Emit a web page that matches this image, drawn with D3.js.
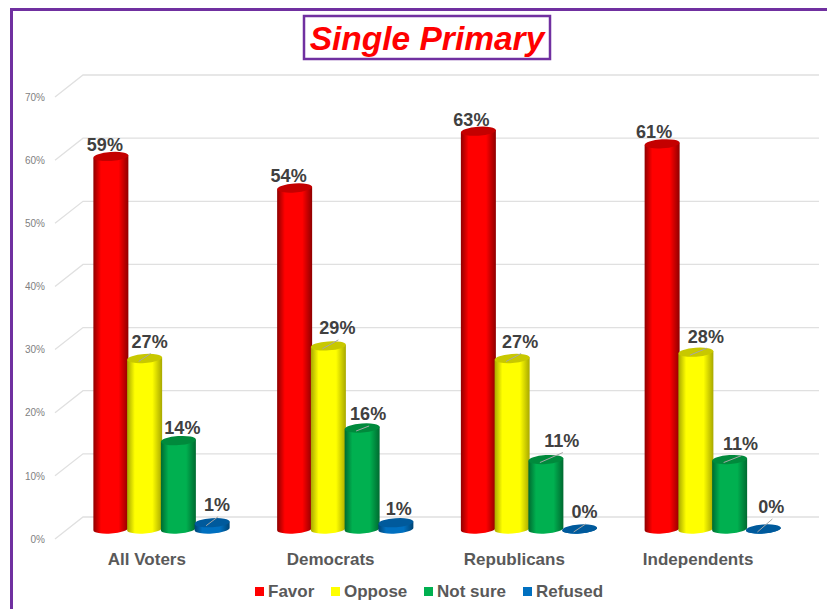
<!DOCTYPE html>
<html>
<head>
<meta charset="utf-8">
<script src="https://cdn.jsdelivr.net/npm/d3@7"></script>
<style>
html, body { margin: 0; padding: 0; background: #fff; }
svg { display: block; }
text { font-family: "Liberation Sans", Arial, sans-serif; }
</style>
</head>
<body>
<div id="chart"></div>
<script>
var categories = ["All Voters", "Democrats", "Republicans", "Independents"];
var seriesNames = ["Favor", "Oppose", "Not sure", "Refused"];
var favor = [59, 54, 63, 61];
var oppose = [27, 29, 27, 28];
var notSure = [14, 16, 11, 11];
var refused = [1, 1, 0, 0];
var ticks = [0, 10, 20, 30, 40, 50, 60, 70];

var seriesValues = [favor, oppose, notSure, refused];

// hand placed data labels in the original, offset from the top of each bar
var labelDx = [[-6, -6, -7, -8], [5, 9, 8, 10], [4, 6, 16, 11], [5, 3, 5, 8]];
var labelDy = [[-12, -12, -12, -12], [-17, -18, -17, -16], [-13, -14, -19, -16], [-18, -14, -17, -22]];
// which labels have a leader line back to the bar
var leaders = [[0, 0, 0, 0], [1, 1, 1, 1], [0, 1, 1, 1], [1, 0, 1, 1]];

var colors = [
  { main: "#ff0000", edge: "#8f0000", top: "#c40000" },
  { main: "#ffff00", edge: "#a8a800", top: "#c8c800" },
  { main: "#00b050", edge: "#006a30", top: "#008a3c" },
  { main: "#0070c0", edge: "#004474", top: "#005a9c" }
];

var svg = d3.select("#chart").append("svg")
  .attr("width", 827)
  .attr("height", 609);

// page frame
svg.append("rect").attr("x", 10).attr("y", 8).attr("width", 817).attr("height", 3).style("fill", "#7030a0");
svg.append("rect").attr("x", 10).attr("y", 8).attr("width", 3).attr("height", 601).style("fill", "#7030a0");

var defs = svg.append("defs");
colors.forEach(function(c, i) {
  var g = defs.append("linearGradient").attr("id", "cyl" + i);
  g.append("stop").attr("offset", "0%").style("stop-color", c.edge);
  g.append("stop").attr("offset", "22%").style("stop-color", c.main);
  g.append("stop").attr("offset", "72%").style("stop-color", c.main);
  g.append("stop").attr("offset", "100%").style("stop-color", c.edge);
});

// front plane, back wall and bar floor share one value scale, shifted
var yFront = d3.scaleLinear().domain([0, 70]).range([539, 97]);
var yBack = d3.scaleLinear().domain([0, 70]).range([517, 75]);
var yBar = d3.scaleLinear().domain([0, 70]).range([529, 87]);

var xGroup = d3.scaleBand().domain(categories).range([55, 790]);
var xSeries = d3.scaleBand().domain(seriesNames).range([39, 174]);

function barCenter(i, s) {
  return xGroup(categories[i]) + xSeries(seriesNames[s]) + xSeries.bandwidth() / 2;
}

svg.selectAll(".grid").data(ticks).enter().append("path")
  .attr("class", "grid")
  .attr("d", function(d) {
    return "M55," + yFront(d) + "L83," + yBack(d) + "L819," + yBack(d);
  })
  .style("fill", "none")
  .style("stroke", "#e0e0e0")
  .style("stroke-width", 1.3);

var yAxis = svg.append("g")
  .attr("transform", "translate(45,0)")
  .call(d3.axisLeft(yFront).tickValues(ticks).tickSize(0).tickPadding(0).tickFormat(function(d) { return d + "%"; }));
yAxis.select(".domain").remove();
yAxis.selectAll("text")
  .style("font-family", "'Liberation Sans', Arial, sans-serif")
  .style("font-size", "10px")
  .style("fill", "#7f7f7f");

// cylinders lean a little, so ellipses are rotated
var rx = 17.5, ry = 4.5, lean = 1.2, tilt = -4;

seriesValues.forEach(function(values, s) {
  var bars = svg.append("g").selectAll("g").data(values).enter().append("g")
    .attr("transform", function(d, i) {
      return "translate(" + barCenter(i, s) + ",0)";
    });
  bars.append("path")
    .attr("d", function(d) {
      var top = yBar(d), base = yBar(0);
      return "M" + (-rx) + "," + (top + lean) + "L" + (-rx) + "," + (base + lean) +
        "A" + rx + "," + ry + " " + tilt + " 0 0 " + rx + "," + (base - lean) +
        "L" + rx + "," + (top - lean) + "Z";
    })
    .style("fill", "url(#cyl" + s + ")");
  bars.append("ellipse")
    .attr("cx", 0)
    .attr("cy", function(d) { return yBar(d); })
    .attr("rx", rx)
    .attr("ry", ry)
    .attr("transform", function(d) { return "rotate(" + tilt + " 0 " + yBar(d) + ")"; })
    .style("fill", colors[s].top);
});

// leader lines and data labels go on top of every bar
seriesValues.forEach(function(values, s) {
  svg.append("g").selectAll("line").data(values).enter().append("line")
    .attr("x1", function(d, i) { return barCenter(i, s) - 6; })
    .attr("y1", function(d) { return yBar(d) + 3; })
    .attr("x2", function(d, i) { return barCenter(i, s) + labelDx[s][i] + 1; })
    .attr("y2", function(d, i) { return yBar(d) + labelDy[s][i] + 12; })
    .style("stroke", "#a6a6a6")
    .style("stroke-width", 1)
    .style("display", function(d, i) { return leaders[s][i] ? null : "none"; });

  svg.append("g").selectAll("text").data(values).enter().append("text")
    .attr("x", function(d, i) { return barCenter(i, s) + labelDx[s][i]; })
    .attr("y", function(d, i) { return yBar(d) + labelDy[s][i]; })
    .attr("dy", "0.35em")
    .attr("text-anchor", "middle")
    .style("font-size", "18px")
    .style("font-weight", "bold")
    .style("fill", "#404040")
    .text(function(d) { return d + "%"; });
});

// category labels
svg.append("g").selectAll("text").data(categories).enter().append("text")
  .attr("x", function(d) { return xGroup(d) + xGroup.bandwidth() / 2; })
  .attr("y", 565)
  .attr("text-anchor", "middle")
  .style("font-size", "17px")
  .style("font-weight", "bold")
  .style("fill", "#595959")
  .text(function(d) { return d; });

// legend
var legendX = d3.scaleOrdinal().domain(seriesNames).range([255, 331, 424, 523]);
var legend = svg.append("g").selectAll("g").data(seriesNames).enter().append("g")
  .attr("transform", function(d) { return "translate(" + legendX(d) + ",587)"; });
legend.append("rect")
  .attr("width", 9)
  .attr("height", 9)
  .style("fill", function(d, i) { return colors[i].main; });
legend.append("text")
  .attr("x", 13)
  .attr("y", 10)
  .style("font-size", "17px")
  .style("font-weight", "bold")
  .style("fill", "#595959")
  .text(function(d) { return d; });

// title box
svg.append("rect")
  .attr("x", 304)
  .attr("y", 16)
  .attr("width", 246)
  .attr("height", 43)
  .style("fill", "#fff")
  .style("stroke", "#7030a0")
  .style("stroke-width", 2.5);
svg.append("text")
  .attr("x", 427)
  .attr("y", 50)
  .attr("text-anchor", "middle")
  .style("font-size", "33.5px")
  .style("font-weight", "bold")
  .style("font-style", "italic")
  .style("fill", "#ff0000")
  .text("Single Primary");
</script>
</body>
</html>
